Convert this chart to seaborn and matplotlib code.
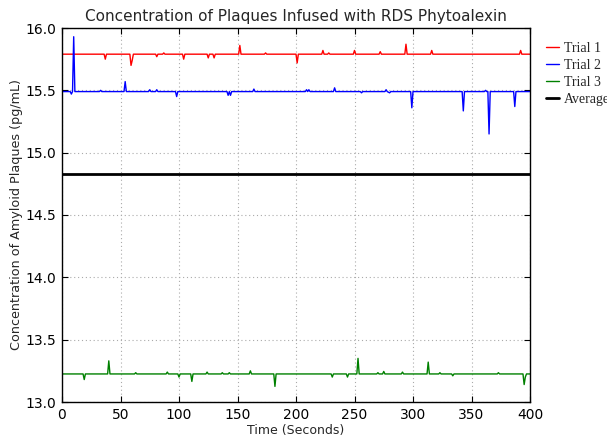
import matplotlib
matplotlib.use("Agg")
import matplotlib.pyplot as plt
import seaborn as sns
import pandas as pd

# ---- data ----
t1_time = [0, 36, 37, 38, 58, 59, 60, 61, 80, 81, 82, 86, 87, 88, 103, 104, 105,
           124, 125, 126, 129, 130, 131, 151, 152, 153, 173, 174, 175, 200, 201, 202,
           222, 223, 224, 227, 228, 229, 249, 250, 251, 271, 272, 273, 293, 294, 295,
           315, 316, 317, 391, 392, 393, 400]
t1_vals = [15.79, 15.79, 15.75, 15.79, 15.79, 15.70, 15.74, 15.79, 15.79, 15.77, 15.79,
           15.79, 15.80, 15.79, 15.79, 15.75, 15.79,
           15.79, 15.76, 15.79, 15.79, 15.76, 15.79, 15.79, 15.86, 15.79, 15.79, 15.80, 15.79,
           15.79, 15.72, 15.79,
           15.79, 15.82, 15.79, 15.79, 15.80, 15.79, 15.79, 15.82, 15.79, 15.79, 15.81, 15.79,
           15.79, 15.87, 15.79,
           15.79, 15.82, 15.79, 15.79, 15.82, 15.79, 15.79]

t2_time = [0, 7, 8, 9, 10, 11, 32, 33, 34, 53, 54, 55, 74, 75, 76, 80, 81, 82,
           97, 98, 99, 141, 142, 143, 144, 145, 163, 164, 165, 208, 209, 210, 211, 212,
           232, 233, 234, 255, 256, 257, 276, 277, 278, 280, 281, 298, 299, 300,
           342, 343, 344, 361, 362, 363, 364, 365, 366, 386, 387, 388, 400]
t2_vals = [15.49, 15.49, 15.47, 15.49, 15.93, 15.49, 15.49, 15.50, 15.49, 15.49, 15.57, 15.49,
           15.49, 15.505, 15.49, 15.49, 15.505, 15.49,
           15.49, 15.45, 15.49, 15.49, 15.46, 15.49, 15.46, 15.49, 15.49, 15.51, 15.49,
           15.49, 15.505, 15.49, 15.505, 15.49,
           15.49, 15.52, 15.49, 15.49, 15.48, 15.49, 15.49, 15.505, 15.49, 15.48, 15.49,
           15.49, 15.36, 15.49,
           15.49, 15.335, 15.49, 15.49, 15.50, 15.49, 15.49, 15.15, 15.49, 15.49, 15.37, 15.49,
           15.49]

t3_time = [0, 18, 19, 20, 39, 40, 41, 62, 63, 64, 89, 90, 91, 99, 100, 101, 110, 111, 112,
           123, 124, 125, 136, 137, 138, 142, 143, 144, 160, 161, 162, 181, 182, 183,
           230, 231, 232, 243, 244, 245, 252, 253, 254, 269, 270, 271, 274, 275, 276,
           290, 291, 292, 312, 313, 314, 322, 323, 324, 333, 334, 335, 372, 373, 374,
           394, 395, 396, 397, 400]
t3_vals = [13.225, 13.225, 13.18, 13.225, 13.225, 13.33, 13.225, 13.225, 13.235, 13.225,
           13.225, 13.24, 13.225, 13.225, 13.20, 13.225, 13.225, 13.165, 13.225,
           13.225, 13.24, 13.225, 13.225, 13.235, 13.225, 13.225, 13.235, 13.225,
           13.225, 13.25, 13.225, 13.225, 13.125, 13.225,
           13.225, 13.20, 13.225, 13.225, 13.20, 13.225, 13.225, 13.35, 13.225,
           13.225, 13.235, 13.225, 13.225, 13.245, 13.225,
           13.225, 13.24, 13.225, 13.225, 13.32, 13.225, 13.225, 13.235, 13.225,
           13.225, 13.21, 13.225, 13.225, 13.235, 13.225,
           13.225, 13.14, 13.20, 13.225, 13.225]

avg_time = [0, 400]
avg_vals = [14.83, 14.83]

series_names = ["Trial 1", "Trial 2", "Trial 3", "Average"]
x_ticks = [0, 50, 100, 150, 200, 250, 300, 350, 400]
y_ticks = [13.0, 13.5, 14.0, 14.5, 15.0, 15.5, 16.0]

# ---- plot ----
sns.set_style("white")
plt.rcParams["font.family"] = ["DejaVu Sans"]

fig = plt.figure(figsize=(6.07, 4.37), dpi=100)
ax = fig.add_axes([62 / 607, 1 - 402 / 437, 468 / 607, 374 / 437])

colors = ["#ff0000", "#0000ff", "#008000", "#000000"]
widths = [1.0, 1.0, 1.0, 2.0]
for name, tt, vv, c, lw in zip(series_names,
                               [t1_time, t2_time, t3_time, avg_time],
                               [t1_vals, t2_vals, t3_vals, avg_vals],
                               colors, widths):
    df = pd.DataFrame({"t": tt, "v": vv})
    sns.lineplot(data=df, x="t", y="v", ax=ax, color=c, lw=lw, label=name,
                 estimator=None, sort=False)

ax.set_xlim(0, 400)
ax.set_ylim(13.0, 16.0)
ax.set_xticks(x_ticks)
ax.set_yticks(y_ticks)
ax.set_yticklabels([f"{v:.1f}" for v in y_ticks])
ax.grid(True, color="#aaaaaa", linestyle=(0, (1, 2.5)), linewidth=0.8)
ax.set_axisbelow(True)
for s in ax.spines.values():
    s.set_color("black")
    s.set_linewidth(1.0)
ax.tick_params(direction="in", length=4, width=0.8, labelsize=10, colors="black",
               top=True, right=True, bottom=True, left=True, pad=4)

ax.set_title("Concentration of Plaques Infused with RDS Phytoalexin", fontsize=11, pad=5)
ax.set_xlabel("Time (Seconds)", fontsize=9, labelpad=2)
ax.set_ylabel("Concentration of Amyloid Plaques (pg/mL)", fontsize=9.2, labelpad=2)

handles, labels = ax.get_legend_handles_labels()
ax.get_legend().remove()
fig.legend(handles, labels, loc="upper left", bbox_to_anchor=(540 / 607, 1 - 36 / 437),
           frameon=False, prop={"family": "Liberation Serif", "size": 10},
           handlelength=1.0, handletextpad=0.3, labelspacing=0.3, borderaxespad=0)

fig.savefig("out.png", dpi=100)
